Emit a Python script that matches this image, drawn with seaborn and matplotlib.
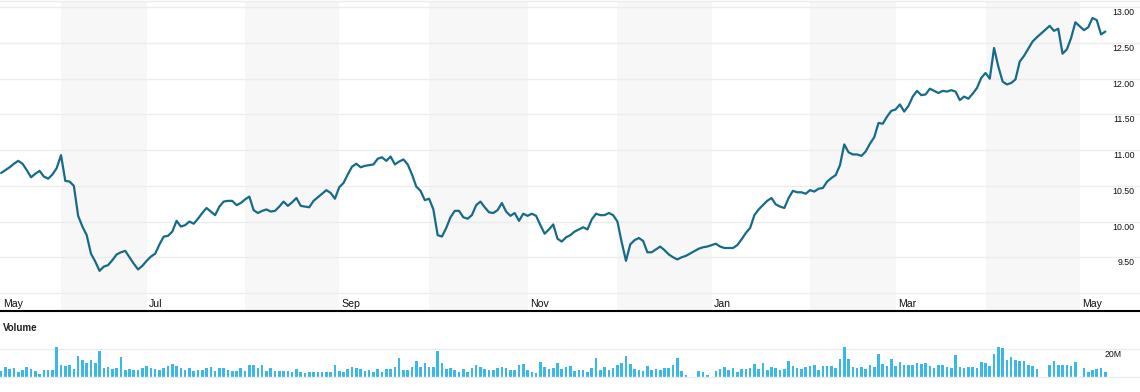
import numpy as np
import pandas as pd
import matplotlib
matplotlib.use("Agg")
import matplotlib.pyplot as plt
import seaborn as sns

# one row per weekday, holidays have no close and zero volume
dates = pd.bdate_range("2013-05-14", "2014-05-09")

price = [
    10.68, 10.72, 10.76, 10.81, 10.85, 10.81, 10.72, 10.62, 10.67, 10.71,
    10.63, 10.60, 10.66, 10.75, 10.93, 10.57, 10.56, 10.50, 10.08, 9.93,
    9.81, 9.55, 9.44, 9.31, 9.37, 9.39, 9.46, 9.54, 9.57, 9.59,
    9.50, 9.41, 9.33, 9.38, 9.45, 9.51, 9.55, 9.68, 9.79, 9.80,
    9.86, 10.01, 9.93, 9.95, 10.00, 9.97, 10.04, 10.12, 10.19, 10.14,
    10.09, 10.21, 10.28, 10.29, 10.29, 10.23, 10.26, 10.31, 10.35, 10.16,
    10.12, 10.15, 10.17, 10.14, 10.15, 10.21, 10.28, 10.22, 10.27, 10.33,
    10.22, 10.21, 10.20, 10.29, 10.34, 10.39, 10.44, 10.40, 10.32, 10.48,
    10.54, 10.66, 10.77, 10.81, 10.76, 10.78, 10.79, 10.80, 10.88, 10.90,
    10.85, 10.91, 10.80, 10.84, 10.87, 10.80, 10.66, 10.49, 10.43, 10.30,
    10.32, 10.17, 9.81, 9.79, 9.91, 10.06, 10.15, 10.15, 10.06, 10.04,
    10.09, 10.23, 10.28, 10.20, 10.13, 10.12, 10.16, 10.26, 10.14, 10.08,
    10.12, 10.01, 10.11, 10.08, 10.11, 10.08, 9.95, 9.83, 9.89, 9.96,
    9.76, 9.72, 9.78, 9.81, 9.86, 9.89, 9.92, 9.89, 10.03, 10.11,
    10.09, 10.09, 10.12, 10.09, 10.00, 9.71, 9.45, 9.68, 9.74, 9.77,
    9.73, 9.57, 9.57, 9.61, 9.65, 9.60, 9.54, 9.50, 9.47, 9.50,
    9.52, None, None, 9.62, 9.64, 9.65, None, 9.69, 9.65, 9.63,
    9.63, 9.63, 9.67, 9.75, 9.84, 9.91, 10.09, 10.17, 10.23, 10.29,
    10.33, 10.24, 10.21, 10.19, 10.33, 10.43, 10.41, 10.41, 10.39, 10.44,
    10.42, 10.46, 10.47, 10.56, 10.61, 10.65, 10.79, 11.08, 10.97, 10.94,
    10.94, 10.92, 10.98, 11.09, 11.18, 11.38, 11.37, 11.47, 11.55, 11.57,
    11.64, 11.54, 11.62, 11.75, 11.83, 11.77, 11.78, 11.86, 11.83, 11.80,
    11.83, 11.82, 11.84, 11.82, 11.70, 11.75, 11.72, 11.79, 11.87, 12.01,
    12.08, 12.00, 12.43, 12.17, 11.96, 11.92, 11.94, 11.99, 12.24, 12.32,
    12.42, 12.52, 12.58, None, None, 12.74, 12.67, 12.70, 12.35, 12.41,
    12.57, 12.79, None, 12.68, 12.72, 12.85, 12.82, 12.62, 12.66,
]

# volume in millions
volume = [
    4.3, 7.1, 5.7, 6.4, 3.6, 5.0, 7.1, 5.7, 4.3, 2.1, 5.0, 5.0, 5.0,
    21.4, 8.6, 7.9, 8.6, 5.7, 15.0, 12.1, 10.0, 12.1, 10.0, 18.6, 6.4, 7.1,
    5.7, 6.4, 14.3, 5.0, 5.7, 5.0, 5.0, 6.4, 7.9, 6.4, 5.7, 5.0, 6.4,
    7.9, 9.3, 7.9, 6.4, 5.0, 6.4, 4.3, 5.0, 5.0, 6.4, 7.1, 4.3, 6.4,
    6.4, 5.0, 4.3, 4.3, 6.4, 4.3, 8.6, 8.6, 6.4, 8.6, 4.3, 6.4, 4.3, 4.3, 4.3,
    4.3, 3.6, 5.7, 3.6, 2.9, 3.6, 3.6, 3.6, 3.6, 3.6, 3.6, 8.6, 4.3,
    3.6, 5.7, 7.1, 6.4, 5.7, 4.3, 5.0, 3.6, 5.7, 3.6, 5.7, 5.7, 7.1,
    13.6, 5.0, 5.0, 7.1, 11.4, 7.1, 10.0, 7.1, 7.1, 18.6, 10.0, 5.7, 6.4,
    5.0, 3.6, 5.7, 3.6, 6.4, 8.6, 7.1, 5.7, 5.0, 5.0, 6.4, 7.1, 6.4,
    5.0, 5.0, 8.6, 9.3, 5.0, 3.6, 2.9, 10.7, 7.1, 5.7, 6.4, 10.0, 5.7, 7.1,
    7.9, 4.3, 5.0, 5.0, 3.6, 6.4, 13.6, 5.0, 7.1, 5.0, 6.4, 8.6, 10.0,
    15.0, 9.3, 5.7, 5.0, 4.3, 7.9, 5.0, 5.7, 5.0, 6.4, 6.4, 8.6, 13.6,
    4.3, 1.4, 0, 0, 4.3, 3.6, 1.4, 0, 4.3, 5.7, 7.1, 5.0, 6.4, 3.6,
    5.7, 5.7, 6.4, 9.3, 5.7, 10.0, 5.0, 7.1, 6.4, 5.0, 5.7, 11.4, 7.9, 6.4,
    5.7, 7.1, 7.9, 8.6, 5.0, 7.9, 7.9, 7.9, 6.4, 12.9, 21.4, 12.9, 7.1,
    6.4, 7.1, 5.7, 8.6, 7.1, 16.4, 9.3, 7.9, 12.9, 7.9, 10.7, 8.6, 8.6,
    8.6, 10.0, 9.3, 10.0, 7.9, 6.4, 8.6, 8.6, 7.1, 6.4, 15.7, 7.1, 6.4,
    7.1, 7.1, 6.4, 10.7, 10.0, 7.9, 16.4, 21.4, 20.7, 12.1, 14.3, 12.1, 11.4,
    11.4, 8.6, 7.9, 5.7, 0, 0, 8.6, 11.4, 8.6, 8.6, 8.6, 7.9, 10.7,
    0, 6.4, 3.6, 5.0, 5.7, 6.4, 3.6,
]

price_ticks = [9.5, 10.0, 10.5, 11.0, 11.5, 12.0, 12.5, 13.0]
price_labels = ["9.50", "10.00", "10.50", "11.00", "11.50", "12.00", "12.50", "13.00"]
grid_lines = [9.0] + price_ticks

assert len(price) == len(dates) and len(volume) == len(dates), (len(dates), len(price), len(volume))

df = pd.DataFrame({"date": dates, "price": price, "volume": volume})
df["idx"] = np.arange(len(df))

LINE = "#166b89"
BAR = "#3bb7e8"
GRID = "#ececec"
BAND = "#f7f7f7"

sns.set_theme(style="white")
plt.rcParams["font.family"] = ["Liberation Sans", "DejaVu Sans"]

W, H = 1140, 392
fig = plt.figure(figsize=(W / 100, H / 100), dpi=100)

# pixel helpers: weekday i sits at 1.1 + 4.28 * i px
x_lim = (-1.1 / 4.28, (W - 1.1) / 4.28)
ax = fig.add_axes([0, 1 - 311 / H, 1, 310 / H])
axv = fig.add_axes([0, 1 - 377 / H, 1, 64 / H])

# month bands and labels
month_start = df.groupby(df["date"].dt.to_period("M"))["idx"].min()
periods = list(month_start.index)
for k, p in enumerate(periods):
    start = month_start[p]
    if p.month % 2 == 0 and k + 1 < len(periods):
        ax.axvspan(start, month_start[periods[k + 1]], color=BAND, lw=0, zorder=0)
    if p.month % 2 == 1:
        ax.annotate(p.strftime("%b"), xy=(start, 8.808), xytext=(1.6, 0),
                    textcoords="offset points", ha="left", va="baseline",
                    fontsize=7.6, color="#111111")

for g in grid_lines:
    ax.axhline(g, color=GRID, lw=1, zorder=1)

sns.lineplot(data=df.dropna(subset=["price"]), x="idx", y="price", ax=ax,
             color=LINE, lw=1.6, zorder=3)

for v, lab in zip(price_ticks, price_labels):
    ax.text(1134.5 / W, v - 0.077, lab, transform=ax.get_yaxis_transform(),
            ha="right", va="center", fontsize=6.3, color="#111111")

ax.set_xlim(*x_lim)
ax.set_ylim(8.748, 13.088)
ax.set_xticks([])
ax.set_yticks([])
ax.set_xlabel("")
ax.set_ylabel("")
for s in ["left", "right"]:
    ax.spines[s].set_visible(False)
ax.spines["top"].set_color(GRID)
ax.spines["top"].set_linewidth(1)
ax.spines["bottom"].set_color("black")
ax.spines["bottom"].set_linewidth(1.5)

# volume panel
axv.axhline(20, color=GRID, lw=1, zorder=0)
sns.barplot(data=df, x="idx", y="volume", ax=axv, native_scale=True,
            width=0.6, color=BAR, saturation=1, errorbar=None, linewidth=0,
            zorder=2)
axv.set_xlim(*x_lim)
axv.set_ylim(0, 45.7)
axv.set_xticks([])
axv.set_yticks([])
axv.set_xlabel("")
axv.set_ylabel("")
for s in ["left", "right", "top"]:
    axv.spines[s].set_visible(False)
axv.spines["bottom"].set_color(GRID)
axv.spines["bottom"].set_linewidth(1)
axv.text(1122 / W, 16.2, "20M", transform=axv.get_yaxis_transform(),
         ha="right", va="center", fontsize=6.3, color="#111111")

fig.text(3 / W, 1 - 328 / H, "Volume", ha="left", va="center",
         fontsize=7, fontweight="bold", color="#222222")

fig.savefig("out.png", dpi=100)
